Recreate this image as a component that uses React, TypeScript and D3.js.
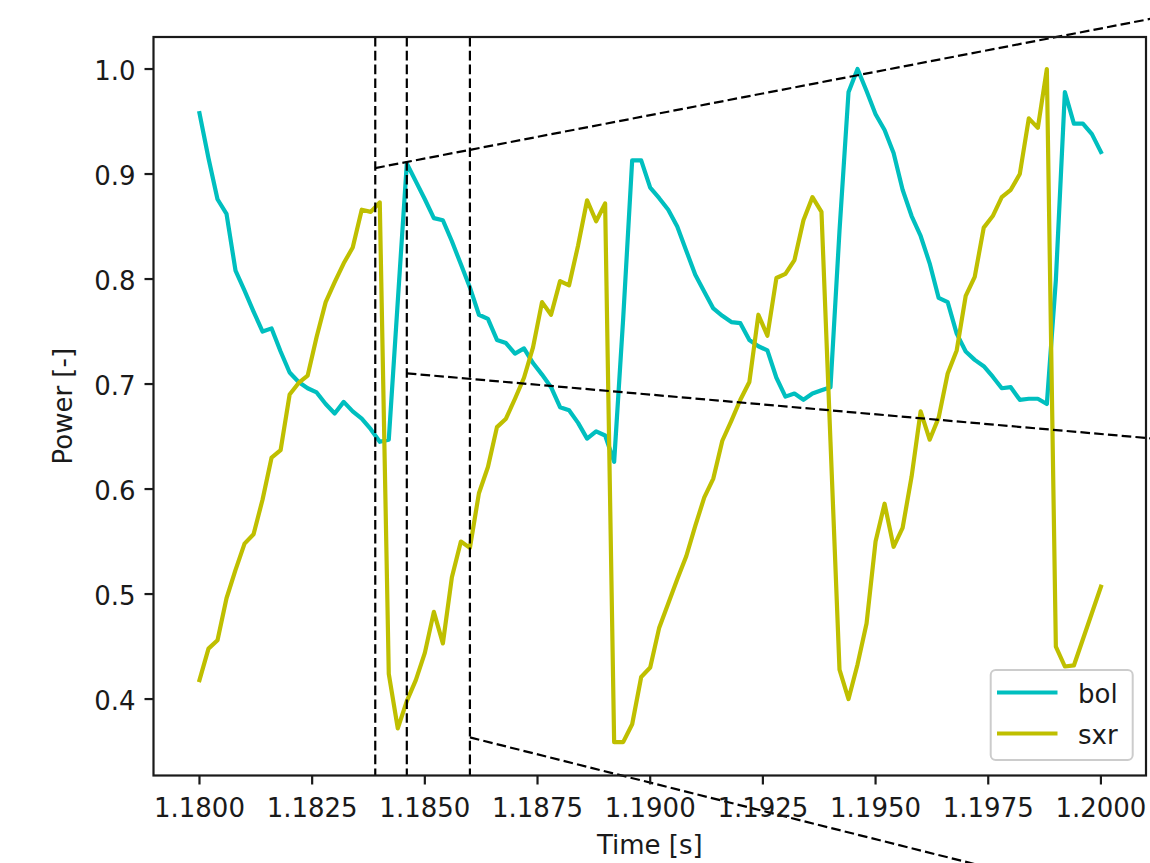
import React from 'react';
import * as d3 from 'd3';

// sampling grid
const T0 = 1.18;
const DT = 0.0002;

// normalised bolometer power
const bol = [
  0.958, 0.915, 0.876, 0.862, 0.808, 0.789, 0.769, 0.750, 0.753, 0.731,
  0.711, 0.702, 0.696, 0.692, 0.681, 0.672, 0.683, 0.674, 0.667, 0.657,
  0.645, 0.647, 0.779, 0.910, 0.893, 0.876, 0.858, 0.856, 0.836, 0.814,
  0.792, 0.766, 0.762, 0.742, 0.739, 0.729, 0.734, 0.720, 0.709, 0.697,
  0.678, 0.675, 0.663, 0.648, 0.655, 0.651, 0.626, 0.762, 0.913, 0.913,
  0.887, 0.877, 0.866, 0.850, 0.827, 0.804, 0.788, 0.772, 0.765, 0.759,
  0.758, 0.742, 0.736, 0.732, 0.706, 0.688, 0.691, 0.685, 0.691, 0.694,
  0.697, 0.846, 0.978, 1.000, 0.979, 0.957, 0.942, 0.920, 0.885, 0.860,
  0.841, 0.815, 0.782, 0.778, 0.748, 0.731, 0.723, 0.717, 0.707, 0.696,
  0.697, 0.685, 0.686, 0.686, 0.681, 0.799, 0.978, 0.948, 0.948, 0.938,
  0.921,
];

// normalised soft x-ray power
const sxr = [
  0.418, 0.448, 0.456, 0.496, 0.523, 0.548, 0.557, 0.590, 0.630, 0.637,
  0.690, 0.701, 0.708, 0.745, 0.778, 0.797, 0.815, 0.830, 0.866, 0.864,
  0.873, 0.424, 0.372, 0.398, 0.418, 0.444, 0.483, 0.453, 0.516, 0.550,
  0.544, 0.596, 0.621, 0.659, 0.667, 0.686, 0.706, 0.735, 0.778, 0.766,
  0.798, 0.794, 0.832, 0.875, 0.855, 0.872, 0.359, 0.359, 0.376, 0.421,
  0.430, 0.468, 0.491, 0.514, 0.536, 0.565, 0.592, 0.610, 0.646, 0.665,
  0.685, 0.702, 0.766, 0.746, 0.801, 0.805, 0.818, 0.856, 0.878, 0.864,
  0.645, 0.428, 0.400, 0.433, 0.472, 0.550, 0.586, 0.545, 0.563, 0.612,
  0.674, 0.647, 0.668, 0.710, 0.732, 0.784, 0.802, 0.849, 0.860, 0.878,
  0.885, 0.900, 0.953, 0.944, 1.000, 0.450, 0.431, 0.432, 0.457, 0.482,
  0.507,
];

const seriesNames = ['bol', 'sxr'];
const seriesColors = ['#00bfbf', '#bfbf00'];

const xTicks = [1.18, 1.1825, 1.185, 1.1875, 1.19, 1.1925, 1.195, 1.1975, 1.2];
const yTicks = [0.4, 0.5, 0.6, 0.7, 0.8, 0.9, 1.0];

// inset markers (time of vertical dashed lines)
const markerTimes = [1.1839, 1.1846, 1.186];
// connector lines to the (off-picture) inset axes: [t, value] start and end
const connectorStarts = [[1.1839, 0.9057], [1.1846, 0.7102], [1.186, 0.3635]];
const connectorEnds = [[1.20331, 1.0660], [1.20331, 0.6400], [1.19776, 0.2368]];

const FONT = 'DejaVu Sans, sans-serif';

export default function App() {
  const W = 1150;
  const H = 863;
  const left = 153.5, right = 1146, top = 37, bottom = 775.5;

  const x = d3.scaleLinear().domain([1.17898, 1.201]).range([left, right]);
  const y = d3.scaleLinear().domain([0.3272, 1.0305]).range([bottom, top]);

  const line = d3
    .line<number>()
    .x((_, i) => x(T0 + DT * i))
    .y((d) => y(d));

  const series = [bol, sxr];
  const tickLen = 9;
  const fs = 26;
  const lw = 4.2;
  const dashW = 2.2;

  const legendRows = [692.5, 733.5];

  return (
    <svg
      width={W}
      height={H}
      style={{ position: 'absolute', left: 0, top: 0, background: '#fff' }}
      fontFamily={FONT}
    >
      <rect x={0} y={0} width={W} height={H} fill="#fff" />
      <defs>
        <clipPath id="axclip">
          <rect x={left} y={top} width={right - left} height={bottom - top} />
        </clipPath>
      </defs>

      <g clipPath="url(#axclip)">
        {series.map((s, k) => (
          <path
            key={seriesNames[k]}
            d={line(s) || ''}
            fill="none"
            stroke={seriesColors[k]}
            strokeWidth={lw}
            strokeLinejoin="round"
            strokeLinecap="square"
          />
        ))}
        {markerTimes.map((t) => (
          <line
            key={t}
            x1={x(t)}
            x2={x(t)}
            y1={top}
            y2={bottom}
            stroke="#000"
            strokeWidth={dashW}
            strokeDasharray="9.6,4.2"
          />
        ))}
      </g>

      {connectorStarts.map((s, k) => (
        <line
          key={k}
          x1={x(s[0])}
          y1={y(s[1])}
          x2={x(connectorEnds[k][0])}
          y2={y(connectorEnds[k][1])}
          stroke="#000"
          strokeWidth={dashW}
          strokeDasharray="9.6,4.2"
        />
      ))}

      {/* frame */}
      <rect
        x={left}
        y={top}
        width={right - left}
        height={bottom - top}
        fill="none"
        stroke="#1a1a1a"
        strokeWidth={2.2}
      />

      {/* x ticks */}
      {xTicks.map((t) => (
        <g key={t}>
          <line x1={x(t)} x2={x(t)} y1={bottom} y2={bottom + tickLen} stroke="#1a1a1a" strokeWidth={2.2} />
          <text x={x(t)} y={bottom + 41.5} fontSize={fs} textAnchor="middle" fill="#1a1a1a">
            {t.toFixed(4)}
          </text>
        </g>
      ))}

      {/* y ticks */}
      {yTicks.map((v) => (
        <g key={v}>
          <line x1={left - tickLen} x2={left} y1={y(v)} y2={y(v)} stroke="#1a1a1a" strokeWidth={2.2} />
          <text x={left - tickLen - 9} y={y(v) + 10.5} fontSize={fs} textAnchor="end" fill="#1a1a1a">
            {v.toFixed(1)}
          </text>
        </g>
      ))}

      {/* axis labels */}
      <text x={(left + right) / 2} y={854} fontSize={fs} textAnchor="middle" fill="#1a1a1a">
        Time [s]
      </text>
      <text
        transform={`translate(71.5, ${(top + bottom) / 2}) rotate(-90)`}
        fontSize={fs}
        textAnchor="middle"
        fill="#1a1a1a"
      >
        Power [-]
      </text>

      {/* legend */}
      <rect
        x={990.7}
        y={670}
        width={142}
        height={90}
        rx={5}
        fill="#fff"
        fillOpacity={0.8}
        stroke="#cccccc"
        strokeWidth={2}
      />
      {seriesNames.map((n, k) => (
        <g key={n}>
          <line
            x1={997}
            x2={1057.5}
            y1={legendRows[k]}
            y2={legendRows[k]}
            stroke={seriesColors[k]}
            strokeWidth={lw}
          />
          <text x={1078} y={legendRows[k] + 10.5} fontSize={fs} fill="#1a1a1a">
            {n}
          </text>
        </g>
      ))}
    </svg>
  );
}
